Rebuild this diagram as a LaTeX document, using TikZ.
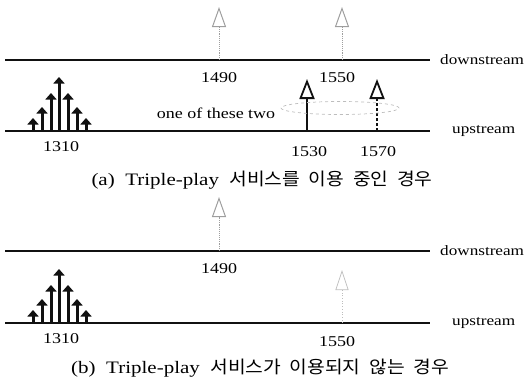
\documentclass[tikz,border=0pt]{standalone}
\usepackage{fontspec}
\setmainfont{Liberation Serif}[FakeStretch=1.2]
\newfontfamily\kofont{Noto Sans CJK KR}[FakeStretch=1.1]
\usetikzlibrary{arrows.meta,positioning,shapes.geometric}
\definecolor{Ink}{HTML}{111111}
\definecolor{Faint}{HTML}{9E9E9E}
\definecolor{Ghost}{HTML}{BDBDBD}
\tikzset{
  fiber/.style={draw=Ink, line width=1.2pt},
  pulse/.style={-{Triangle[length=6.5pt,width=11pt]}, draw=Ink, line width=3pt},
  signal/.style={-{Triangle[open,length=20pt,width=15pt,line width=1.8pt]}, draw=Ink, line width=1.6pt},
  spare/.style={signal, densely dashed},
  idle/.style={-{Triangle[open,length=20pt,width=14pt,line width=1pt]}, draw=Faint, line width=0.9pt, densely dotted},
  ghost/.style={-{Triangle[open,length=20pt,width=13pt,line width=0.7pt]}, draw=Ghost, line width=0.7pt, dotted},
  choice/.style={draw=Ghost, dashed, line width=0.7pt, ellipse, minimum width=118pt, minimum height=13pt},
  freq/.style={font=\fontsize{15}{17}\selectfont, inner sep=0pt},
  streamlabel/.style={font=\fontsize{14.3}{16}\selectfont, anchor=west, inner sep=0pt},
  caption/.style={font=\fontsize{17.5}{20}\selectfont, inner sep=0pt},
}

\begin{document}
\begin{tikzpicture}[x=1pt, y=-1pt]
  \useasboundingbox (0,0) rectangle (527,381);

  % (a) Triple-play in use: fibre lines.
  \coordinate (dsA-w) at (5,60);
  \coordinate (dsA-e) at (430,60);
  \coordinate (usA-w) at (5,131);
  \coordinate (usA-e) at (430,131);
  \draw[fiber] (dsA-w) -- (dsA-e);
  \draw[fiber] (usA-w) -- (usA-e);
  \node[streamlabel] (dsA) at (440,60) {downstream};
  \node[streamlabel] (usA) at (452,131) {upstream};

  % 1310 burst on the upstream line.
  \coordinate (a1) at (33,131); \coordinate (a1t) at (33,118);
  \coordinate (a2) at (42,131); \coordinate (a2t) at (42,107);
  \coordinate (a3) at (51,131); \coordinate (a3t) at (51,93);
  \coordinate (a4) at (59,131); \coordinate (a4t) at (59,77);
  \coordinate (a5) at (68,131); \coordinate (a5t) at (68,93);
  \coordinate (a6) at (77,131); \coordinate (a6t) at (77,107);
  \coordinate (a7) at (86,131); \coordinate (a7t) at (86,118);
  \draw[pulse] (a1) -- (a1t);
  \draw[pulse] (a2) -- (a2t);
  \draw[pulse] (a3) -- (a3t);
  \draw[pulse] (a4) -- (a4t);
  \draw[pulse] (a5) -- (a5t);
  \draw[pulse] (a6) -- (a6t);
  \draw[pulse] (a7) -- (a7t);
  \node[freq] (a1310) at (61,147) {1310};

  % Downstream wavelengths.
  \coordinate (a1490) at (219,60); \coordinate (a1490t) at (219,7);
  \coordinate (a1550) at (342,60); \coordinate (a1550t) at (342,7);
  \draw[idle] (a1490) -- (a1490t);
  \draw[idle] (a1550) -- (a1550t);
  \node[freq] (a1490n) at (219,78) {1490};
  \node[freq] (a1550n) at (337,78) {1550};

  % Upstream candidates.
  \coordinate (a1530) at (307,131); \coordinate (a1530t) at (307,79);
  \coordinate (a1570) at (377,131); \coordinate (a1570t) at (377,79);
  \draw[signal] (a1530) -- (a1530t);
  \draw[spare] (a1570) -- (a1570t);
  \node[freq] (a1530n) at (309,152) {1530};
  \node[freq] (a1570n) at (378,152) {1570};
  \node[choice] (pick) at (340,108) {};
  \node[freq] (twoNote) at (216,113) {one of these two};

  \node[caption] (capA) at (262,180)
    {(a)\ \ Triple-play\ \ {\kofont 서비스를\ \ 이용\ \ 중인\ \ 경우}};

  % (b) Triple-play not in use.
  \coordinate (dsB-w) at (5,251);
  \coordinate (dsB-e) at (430,251);
  \coordinate (usB-w) at (5,323);
  \coordinate (usB-e) at (430,323);
  \draw[fiber] (dsB-w) -- (dsB-e);
  \draw[fiber] (usB-w) -- (usB-e);
  \node[streamlabel] (dsB) at (440,251) {downstream};
  \node[streamlabel] (usB) at (452,323) {upstream};

  \coordinate (b1) at (33,323); \coordinate (b1t) at (33,310);
  \coordinate (b2) at (42,323); \coordinate (b2t) at (42,299);
  \coordinate (b3) at (51,323); \coordinate (b3t) at (51,285);
  \coordinate (b4) at (59,323); \coordinate (b4t) at (59,269);
  \coordinate (b5) at (68,323); \coordinate (b5t) at (68,285);
  \coordinate (b6) at (77,323); \coordinate (b6t) at (77,299);
  \coordinate (b7) at (86,323); \coordinate (b7t) at (86,310);
  \draw[pulse] (b1) -- (b1t);
  \draw[pulse] (b2) -- (b2t);
  \draw[pulse] (b3) -- (b3t);
  \draw[pulse] (b4) -- (b4t);
  \draw[pulse] (b5) -- (b5t);
  \draw[pulse] (b6) -- (b6t);
  \draw[pulse] (b7) -- (b7t);
  \node[freq] (b1310) at (61,339) {1310};

  \coordinate (b1490) at (219,251); \coordinate (b1490t) at (219,197);
  \draw[idle] (b1490) -- (b1490t);
  \node[freq] (b1490n) at (219,269) {1490};

  \coordinate (b1550) at (342,323); \coordinate (b1550t) at (342,270);
  \draw[ghost] (b1550) -- (b1550t);
  \node[freq] (b1550n) at (337,342) {1550};

  \node[caption] (capB) at (260,368)
    {(b)\ \ Triple-play\ \ {\kofont 서비스가\ \ 이용되지\ \ 않는\ \ 경우}};
\end{tikzpicture}
\end{document}
